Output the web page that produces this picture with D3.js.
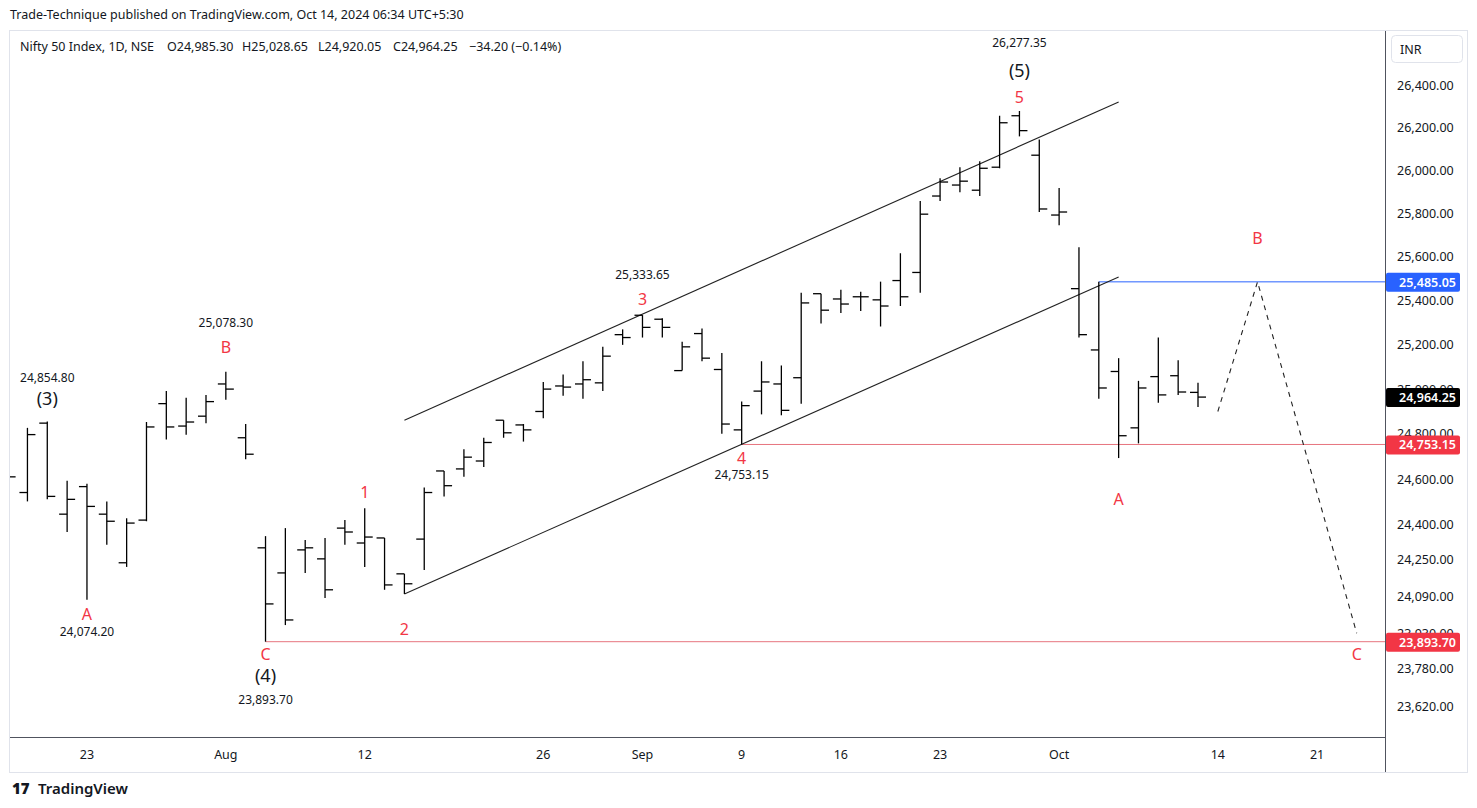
<!DOCTYPE html>
<html>
<head>
<meta charset="utf-8">
<script src="https://cdn.jsdelivr.net/npm/d3@7"></script>
<style>
  body { margin: 0; background: #fff; font-family: "Noto Sans", "DejaVu Sans", sans-serif; }
  svg text { fill: #131722; }
</style>
</head>
<body>
<svg id="chart" width="1477" height="808"></svg>
<script>
// Trading days (index order), then a few future days for the projection
var dates = ["2024-07-16","2024-07-18","2024-07-19","2024-07-22","2024-07-23","2024-07-24","2024-07-25","2024-07-26",
  "2024-07-29","2024-07-30","2024-07-31","2024-08-01","2024-08-02","2024-08-05","2024-08-06","2024-08-07","2024-08-08",
  "2024-08-09","2024-08-12","2024-08-13","2024-08-14","2024-08-16","2024-08-19","2024-08-20","2024-08-21","2024-08-22",
  "2024-08-23","2024-08-26","2024-08-27","2024-08-28","2024-08-29","2024-08-30","2024-09-02","2024-09-03","2024-09-04",
  "2024-09-05","2024-09-06","2024-09-09","2024-09-10","2024-09-11","2024-09-12","2024-09-13","2024-09-16","2024-09-17",
  "2024-09-18","2024-09-19","2024-09-20","2024-09-23","2024-09-24","2024-09-25","2024-09-26","2024-09-27","2024-09-30",
  "2024-10-01","2024-10-03","2024-10-04","2024-10-07","2024-10-08","2024-10-09","2024-10-10","2024-10-11"];
var futureDates = ["2024-10-14","2024-10-15","2024-10-16","2024-10-17","2024-10-18","2024-10-21","2024-10-22","2024-10-23","2024-10-24"];

var open  = [24640,24541,24848,24446,24567,24446,24234,24420,24935,24835,24879,25023,24783,24299,24190,24290,24251,24385,24320,24342,24186,24337,24636,24645,24680,24861,24840,24900,25014,25023,25028,25245,25333,25315,25083,25250,25088,24818,24991,25023,25051,25431,25407,25417,25403,25491,25528,25880,25931,25907,26014,26255,26070,25792,25454,25176,25079,24827,25056,25060,24985.3];
var high  = [24700,24827,24854.8,24593,24580,24502,24428,24853,24991,24961,24974,25078.3,24844,24350,24385,24333,24342,24420,24472,24342,24186,24563,24636,24732,24783,24861,24844,25032,25065,25125,25190,25269,25333.65,25319,25213,25273,25162,24944,25125,25106,25435,25431,25449,25440,25486,25616,25857,25963,26014,26042,26255,26277.35,26144,25917,25644,25486,25139,25037,25232,25130,25028.65];
var low   = [24560,24502,24511,24368,24074.2,24312,24216,24415,24775,24796,24848,24952,24688,23893.7,23965,24190,24082,24312,24216,24117,24099,24203,24524,24610,24654,24783,24766,24870,24970,24957,24991,25199,25232,25232,25083,25125,24801,24753.15,24887,24883,24935,25296,25343,25352,25282,25375,25435,25857,25898,25880,26009,26158,25806,25745,25232,24957,24693,24758,24939,24974,24920.05];
var close = [24610,24797,24524,24511,24480,24415,24407,24831,24831,24853,24944,25000,24710,24056,23987,24299,24117,24368,24346,24138,24143,24541,24571,24697,24762,24805,24818,25000,25009,25042,25148,25232,25278,25278,25190,25139,24844,24926,25032,24905,25389,25356,25384,25417,25375,25417,25796,25945,25949,26009,26222,26185,25820,25806,25245,25005,24792,25005,24974,24987,24964.25];

var yTicks = [26400,26200,26000,25800,25600,25400,25200,25000,24800,24600,24400,24250,24090,23930,23780,23620];
var xTicks = [["2024-07-23","23"],["2024-08-01","Aug"],["2024-08-12","12"],["2024-08-26","26"],["2024-09-02","Sep"],
  ["2024-09-09","9"],["2024-09-16","16"],["2024-09-23","23"],["2024-10-01","Oct"],["2024-10-14","14"],["2024-10-21","21"]];

// Wave labels: [date, price, text, colour, dy, size]
var waveLabels = [
  ["2024-07-19",24854.8,"24,854.80","#131722",-40,12],["2024-07-19",24854.8,"(3)","#131722",-17,18],
  ["2024-08-01",25078.3,"25,078.30","#131722",-45,12],["2024-08-01",25078.3,"B","#f23645",-19,16],
  ["2024-07-23",24074.2,"A","#f23645",20,16],["2024-07-23",24074.2,"24,074.20","#131722",36,12],
  ["2024-08-05",23893.7,"C","#f23645",18,16],["2024-08-05",23893.7,"(4)","#131722",40,18],["2024-08-05",23893.7,"23,893.70","#131722",62,12],
  ["2024-08-12",24472,"1","#f23645",-10,16],["2024-08-14",24099,"2","#f23645",41,16],
  ["2024-09-02",25333.65,"25,333.65","#131722",-36,12],["2024-09-02",25333.65,"3","#f23645",-10,16],
  ["2024-09-09",24753.15,"4","#f23645",20,16],["2024-09-09",24753.15,"24,753.15","#131722",35,12],
  ["2024-09-27",26277.35,"26,277.35","#131722",-64,12],["2024-09-27",26277.35,"(5)","#131722",-34,18],["2024-09-27",26277.35,"5","#f23645",-8,16],
  ["2024-10-07",24693,"A","#f23645",47,16],["2024-10-16",25485.05,"B","#f23645",-38,16],["2024-10-23",23893.7,"C","#f23645",18,16]
];

// Channel and projection
var channelTop = [["2024-08-14",24861],["2024-10-07",26320]];
var channelBottom = [["2024-08-14",24099],["2024-10-07",25507]];
var projection = [["2024-10-14",24900],["2024-10-16",25485.05],["2024-10-23",23930]];

var headerParts = [[20,"Nifty 50 Index, 1D, NSE"],[167,"O24,985.30"],[242,"H25,028.65"],[318,"L24,920.05"],[393,"C24,964.25"],[469,"\u221234.20 (\u22120.14%)"]];

var svg = d3.select("#chart");
var W = 1477, H = 808;
var plot = {left: 10, right: 1385, top: 31, bottom: 737};

var allDates = dates.concat(futureDates);
var x = d3.scaleLinear().domain([0, 1]).range([7.6, 27.44]);
var xd = function (d) { return x(allDates.indexOf(d)); };
var y = d3.scaleLog().domain([23620, 26400]).range([706, 85]);
var fmt = d3.format(",.2f");

// Frame
svg.append("rect").attr("x", 9.5).attr("y", 30.5).attr("width", W - 19).attr("height", 742)
  .attr("fill", "none").attr("stroke", "#e0e3eb");
svg.append("line").attr("x1", plot.left).attr("x2", plot.right).attr("y1", plot.bottom + .5).attr("y2", plot.bottom + .5).attr("stroke", "#50535e");
svg.append("line").attr("x1", plot.right + .5).attr("x2", plot.right + .5).attr("y1", 31).attr("y2", 772).attr("stroke", "#50535e");

svg.append("defs").append("clipPath").attr("id", "clip").append("rect")
  .attr("x", plot.left).attr("y", plot.top).attr("width", plot.right - plot.left).attr("height", plot.bottom - plot.top);
var g = svg.append("g").attr("clip-path", "url(#clip)");

// Header text
svg.append("text").attr("x", 10).attr("y", 19).attr("font-size", 12.5).text("Trade-Technique published on TradingView.com, Oct 14, 2024 06:34 UTC+5:30");
svg.append("g").selectAll("text").data(headerParts).enter().append("text")
  .attr("x", d => d[0]).attr("y", 51).attr("font-size", 12.5).text(d => d[1]);
svg.append("rect").attr("x", 1391.5).attr("y", 35.5).attr("width", 71).attr("height", 27).attr("rx", 4)
  .attr("fill", "#fff").attr("stroke", "#e0e3eb");
svg.append("text").attr("x", 1400).attr("y", 54).attr("font-size", 12.5).text("INR");
svg.append("text").attr("x", 38).attr("y", 794).attr("font-size", 15).attr("font-weight", 600).text("TradingView");
svg.append("text").attr("x", 12).attr("y", 794).attr("font-size", 15).attr("font-weight", 900).text("17");

// Axes
svg.append("g").selectAll("text").data(xTicks).enter().append("text")
  .attr("x", d => xd(d[0])).attr("y", 759).attr("text-anchor", "middle").attr("font-size", 12.5).text(d => d[1]);
svg.append("g").selectAll("text").data(yTicks).enter().append("text")
  .attr("x", 1397).attr("y", d => y(d) + 4.5).attr("font-size", 12.5).attr("fill", "#434651").text(d => fmt(d));

// Horizontal levels
g.append("line").attr("x1", xd("2024-08-05")).attr("x2", plot.right).attr("y1", y(23893.7)).attr("y2", y(23893.7)).attr("stroke", "#e0505e").attr("stroke-width", 0.8);
g.append("line").attr("x1", xd("2024-09-09")).attr("x2", plot.right).attr("y1", y(24753.15)).attr("y2", y(24753.15)).attr("stroke", "#e0505e").attr("stroke-width", 0.8);
g.append("line").attr("x1", xd("2024-10-04")).attr("x2", plot.right).attr("y1", y(25485.05)).attr("y2", y(25485.05)).attr("stroke", "#2962ff").attr("stroke-width", 1);

// Channel
var line = d3.line().x(d => xd(d[0])).y(d => y(d[1]));
[channelTop, channelBottom].forEach(function (c) {
  g.append("path").attr("d", line(c)).attr("fill", "none").attr("stroke", "#222").attr("stroke-width", 1.1);
});
g.append("path").attr("d", line(projection)).attr("fill", "none").attr("stroke", "#222")
  .attr("stroke-width", 1.1).attr("stroke-dasharray", "5,5");

// OHLC bars
var bars = g.append("g").selectAll("g").data(dates).enter().append("g");
bars.append("line").attr("x1", (d, i) => x(i)).attr("x2", (d, i) => x(i))
  .attr("y1", (d, i) => y(high[i])).attr("y2", (d, i) => y(low[i])).attr("stroke", "#000").attr("stroke-width", 1.3);
bars.append("line").attr("x1", (d, i) => x(i) - 8).attr("x2", (d, i) => x(i))
  .attr("y1", (d, i) => y(open[i])).attr("y2", (d, i) => y(open[i])).attr("stroke", "#000").attr("stroke-width", 1.3);
bars.append("line").attr("x1", (d, i) => x(i)).attr("x2", (d, i) => x(i) + 8)
  .attr("y1", (d, i) => y(close[i])).attr("y2", (d, i) => y(close[i])).attr("stroke", "#000").attr("stroke-width", 1.3);

// Wave labels
svg.append("g").selectAll("text").data(waveLabels).enter().append("text")
  .attr("x", d => xd(d[0])).attr("y", d => y(d[1]) + d[4]).attr("text-anchor", "middle")
  .attr("font-size", d => d[5]).style("fill", d => d[3]).text(d => d[2]);

// Price tags on the right axis
var tags = [[25485.05, "#2962ff"], [24964.25, "#000"], [24753.15, "#f23645"], [23893.7, "#f23645"]];
var tg = svg.append("g").selectAll("g").data(tags).enter().append("g");
tg.append("rect").attr("x", 1386).attr("y", d => y(d[0]) - 9).attr("width", 74).attr("height", 19).attr("rx", 2).attr("fill", d => d[1]);
tg.append("text").attr("x", 1456).attr("y", d => y(d[0]) + 5).attr("text-anchor", "end").attr("font-size", 12.5)
  .attr("font-weight", 600).style("fill", "#fff").text(d => fmt(d[0]));
</script>
</body>
</html>
